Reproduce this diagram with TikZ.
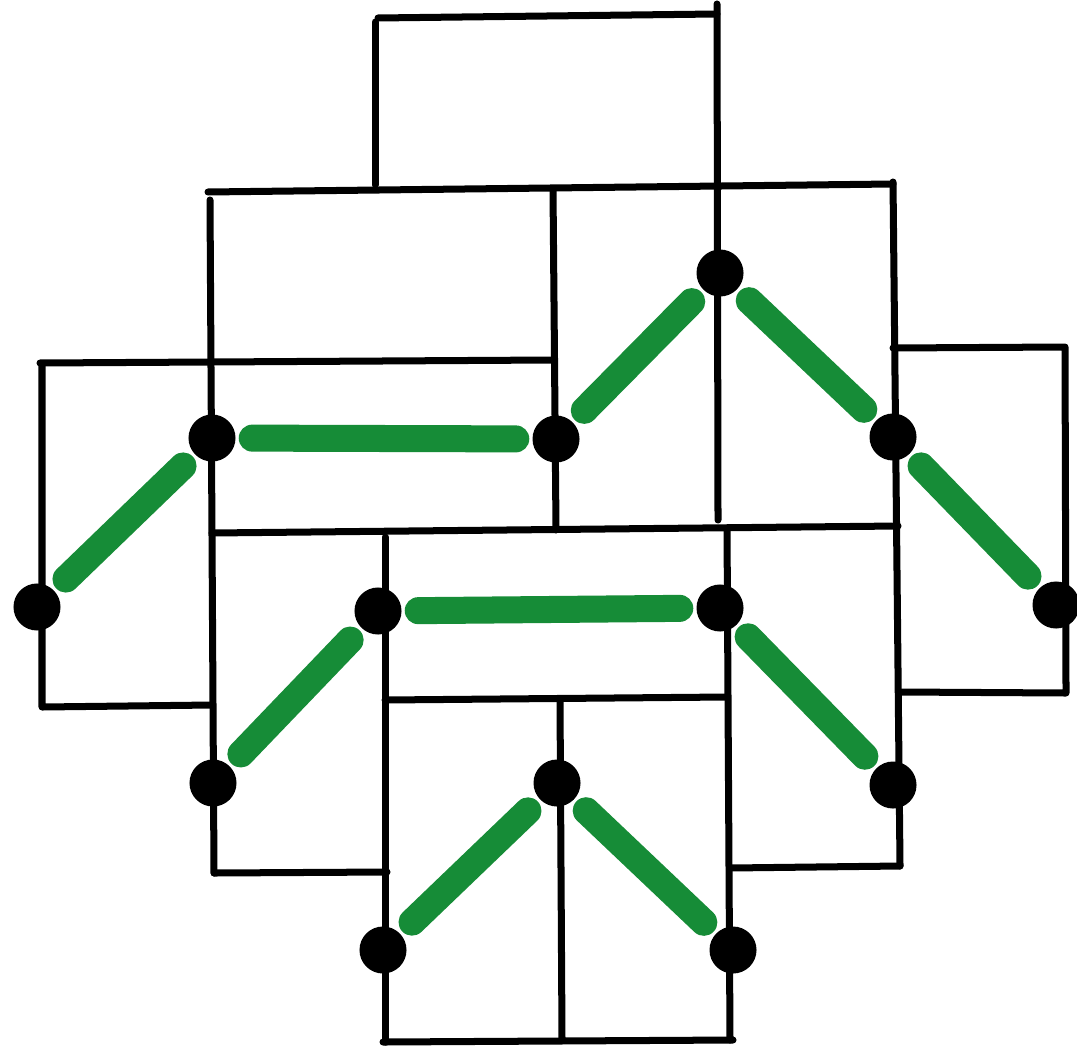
\documentclass[tikz,border=0pt]{standalone}
\begin{document}
\begin{tikzpicture}[x=0.01cm,y=-0.01cm,
  grid/.style={line width=0.07cm,black,line cap=round,line join=round},
  dot/.style={circle,fill=black,inner sep=0pt,minimum size=0.47cm},
  marker/.style={line width=0.27cm,line cap=round,draw={rgb,255:red,22;green,140;blue,55},
    shorten <=0.16cm,shorten >=0.16cm}]
\fill[white] (0,0) rectangle (1077,1049);
\useasboundingbox (0,0) rectangle (1077,1049);

% outline of the cells
\draw[grid] (375,185) -- (375,22);
\draw[grid] (378,18) -- (717,14);
\draw[grid] (717,4) -- (718,520);
\draw[grid] (208,192) -- (893,184);
\draw[grid] (210,200) -- (214,873);
\draw[grid] (553,190) -- (556,530);
\draw[grid] (893,182) -- (900,866);
\draw[grid] (40,363) -- (553,360);
\draw[grid] (42,365) -- (42,707) -- (212,705);
\draw[grid] (893,348) -- (1065,347) -- (1066,693) -- (900,692);
\draw[grid] (212,533) -- (898,526);
\draw[grid] (385,537) -- (385,1042);
\draw[grid] (727,528) -- (730,1040);
\draw[grid] (385,700) -- (727,697);
\draw[grid] (560,700) -- (562,1040);
\draw[grid] (383,1042) -- (733,1040);
\draw[grid] (214,873) -- (387,872);
\draw[grid] (730,868) -- (900,866);

% vertices
\node[dot] (A) at (37,607) {};
\node[dot] (B) at (212,438) {};
\node[dot] (C) at (556,439) {};
\node[dot] (D) at (720,273) {};
\node[dot] (E) at (893,437) {};
\node[dot] (F) at (1056,605) {};
\node[dot] (G) at (378,611) {};
\node[dot] (H) at (720,608) {};
\node[dot] (I) at (213,783) {};
\node[dot] (J) at (893,785) {};
\node[dot] (K) at (557,783) {};
\node[dot] (L) at (383,950) {};
\node[dot] (M) at (733,950) {};

% green paths
\draw[marker] (A) -- (B);
\draw[marker] (B) -- (C);
\draw[marker] (C) -- (D);
\draw[marker] (D) -- (E);
\draw[marker] (E) -- (F);
\draw[marker] (I) -- (G);
\draw[marker] (G) -- (H);
\draw[marker] (H) -- (J);
\draw[marker] (L) -- (K);
\draw[marker] (K) -- (M);
\end{tikzpicture}
\end{document}
